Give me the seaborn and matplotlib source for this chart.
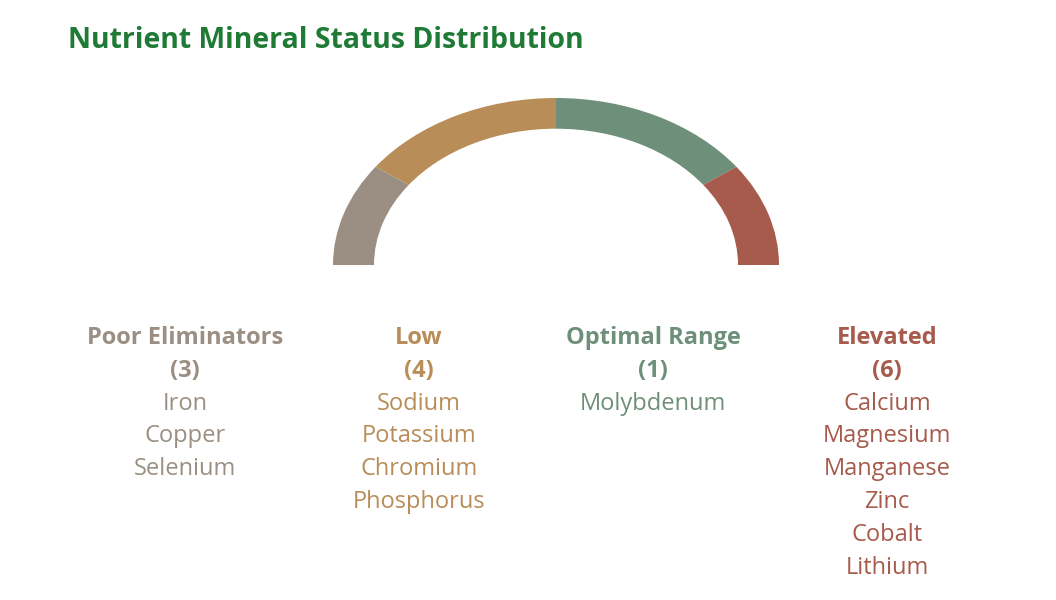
import matplotlib
matplotlib.use("Agg")
import matplotlib.pyplot as plt
import seaborn as sns

sns.set_theme(style="white")
plt.rcParams['font.family'] = ['Open Sans', 'DejaVu Sans']

categories = ["Poor Eliminators", "Low", "Optimal Range", "Elevated"]
counts = [3, 4, 1, 6]
segment_share = [0.2, 0.3, 0.3, 0.2]
minerals = [["Iron", "Copper", "Selenium"],
            ["Sodium", "Potassium", "Chromium", "Phosphorus"],
            ["Molybdenum"],
            ["Calcium", "Magnesium", "Manganese", "Zinc", "Cobalt", "Lithium"]]
colors = ["#9A8F82", "#B88D58", "#6E8F79", "#A65B4C"]

W, H = 1056, 600
fig = plt.figure(figsize=(W/100, H/100), dpi=100)
bg = fig.add_axes([0, 0, 1, 1])
bg.set_xlim(0, W); bg.set_ylim(H, 0); bg.axis("off")

cx, cy, rx, ry = 556, 265, 223, 167
pax = fig.add_axes([(cx-rx)/W, (H-cy-ry)/H, 2*rx/W, 2*ry/H])
vals = segment_share + [sum(segment_share)]
wedges, _ = pax.pie(vals, colors=colors + ["none"], startangle=180, counterclock=False,
                    radius=1, wedgeprops=dict(width=41/223, linewidth=0))
wedges[-1].set_visible(False)
pax.set_xlim(-1, 1); pax.set_ylim(-1, 1); pax.set_aspect("auto"); pax.axis("off")

bg.text(68, 41, "Nutrient Mineral Status Distribution", fontsize=20.4, fontweight="bold",
        color="#1F7A35", ha="left", va="center")

xs = [185, 419, 653, 887]
y0, dy = 338, 32.8
for x, cat, n, items, c in zip(xs, categories, counts, minerals, colors):
    bg.text(x, y0, cat, fontsize=17, fontweight="bold", color=c, ha="center", va="center")
    bg.text(x, y0 + dy, f"({n})", fontsize=17, fontweight="bold", color=c, ha="center", va="center")
    for i, m in enumerate(items):
        bg.text(x, y0 + dy*(i+2), m, fontsize=17, color=c, ha="center", va="center")

fig.savefig("out.png", dpi=100, facecolor="white")
